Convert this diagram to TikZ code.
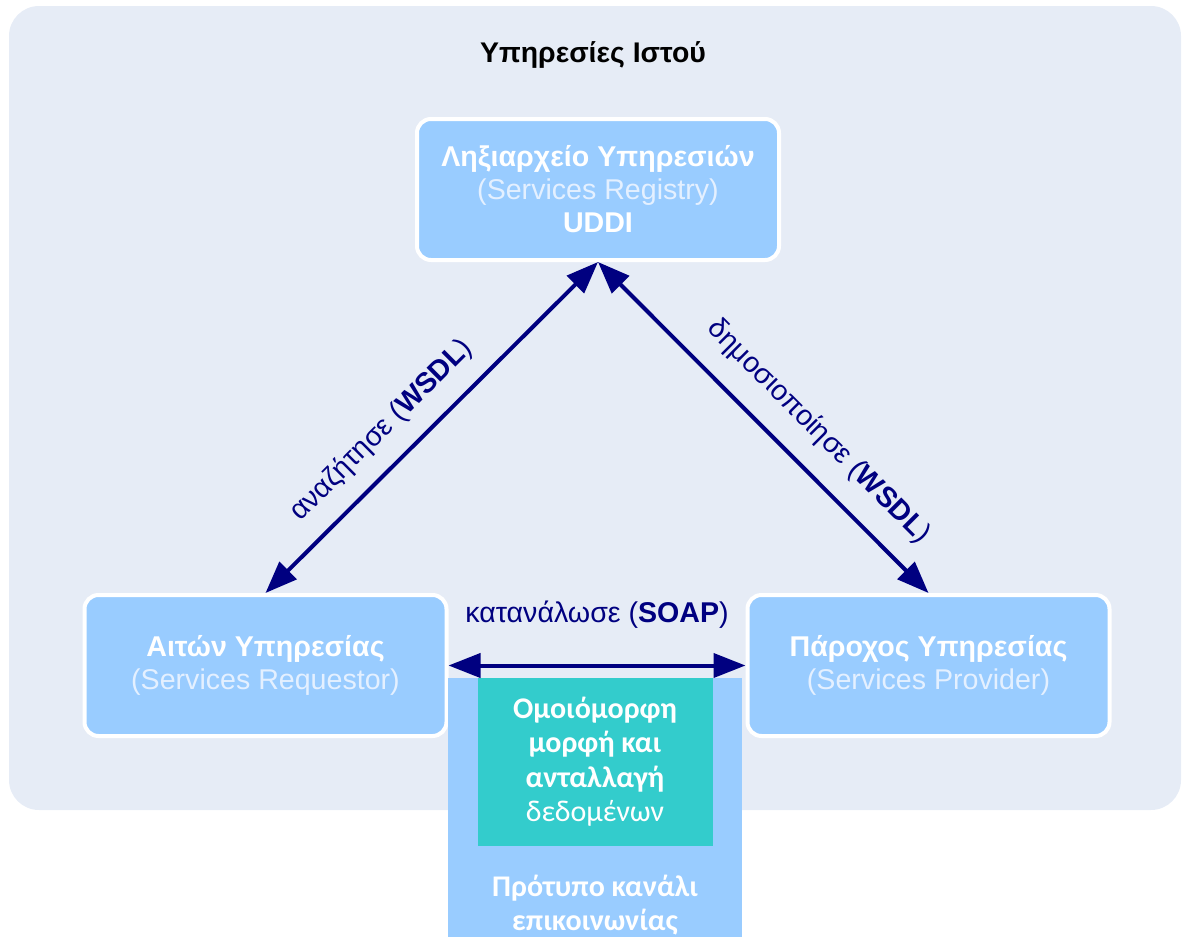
\documentclass[tikz,border=0pt]{standalone}
\usepackage{fontspec}
\setmainfont{Liberation Sans}
\newfontfamily\calibri{Carlito}
\usetikzlibrary{positioning,arrows.meta}
\definecolor{panelbg}{HTML}{E6ECF6}
\definecolor{boxblue}{HTML}{99CCFF}
\definecolor{navy}{HTML}{000080}
\definecolor{tealbox}{HTML}{33CCCC}
\definecolor{paren}{HTML}{E4F0FF}
\tikzset{
    service/.style={draw=white, line width=2pt, fill=boxblue, rounded corners=7pt, minimum width=181pt, minimum height=70.5pt, align=center, text=white, font=\fontsize{14.3}{16.5}\selectfont},
    link/.style={{Triangle[length=16pt,width=12pt]}-{Triangle[length=16pt,width=12pt]}, draw=navy, line width=2pt},
}

\begin{document}
\begin{tikzpicture}[x=0.5pt, y=-0.5pt]
    \useasboundingbox (0,0) rectangle (1183,937);
    \fill[panelbg, rounded corners=15pt] (9,6) rectangle (1181,810);
    \node [font=\bfseries\fontsize{14.2}{17}\selectfont] (title) at (593,55) {Υπηρεσίες Ιστού};

    \node [service] (registry) at (598,189.5) {\textbf{Ληξιαρχείο Υπηρεσιών}\\\textcolor{paren}{(Services Registry)}\\\textbf{UDDI}};
    \node [service] (requestor) at (265.5,665.5) {\textbf{Αιτών Υπηρεσίας}\\\textcolor{paren}{(Services Requestor)}};
    \node [service] (provider) at (928.5,665.5) {\textbf{Πάροχος Υπηρεσίας}\\\textcolor{paren}{(Services Provider)}};

    \node [fill=boxblue, minimum width=147pt, minimum height=129.5pt,
        label={[anchor=south, inner sep=1pt, text=white, align=center, font=\calibri\bfseries\fontsize{15}{17}\selectfont]south:Πρότυπο κανάλι\\επικοινωνίας}] (channel) at (595,807.5) {};
    \node [fill=tealbox, below=0pt of channel.north, minimum width=117.5pt, minimum height=84pt, outer sep=0pt, align=center, text=white, font=\calibri\fontsize{15}{17.2}\selectfont] (format) {\textbf{Ομοιόμορφη}\\\textbf{μορφή και}\\\textbf{ανταλλαγή}\\δεδομένων};

    \path[every edge/.style={link}, every node/.style={sloped, text=navy, font=\fontsize{14.3}{17}\selectfont}]
        (requestor.north) edge node[pos=0.42, above=5.5pt] {αναζήτησε (\textbf{WSDL})} (registry.south)
        (registry.south) edge node[pos=0.59, above=7pt] {δημοσιοποίησε (\textbf{WSDL})} (provider.north)
        (requestor.east) edge node[above=14pt] {κατανάλωσε (\textbf{SOAP})} (provider.west);
\end{tikzpicture}
\end{document}
